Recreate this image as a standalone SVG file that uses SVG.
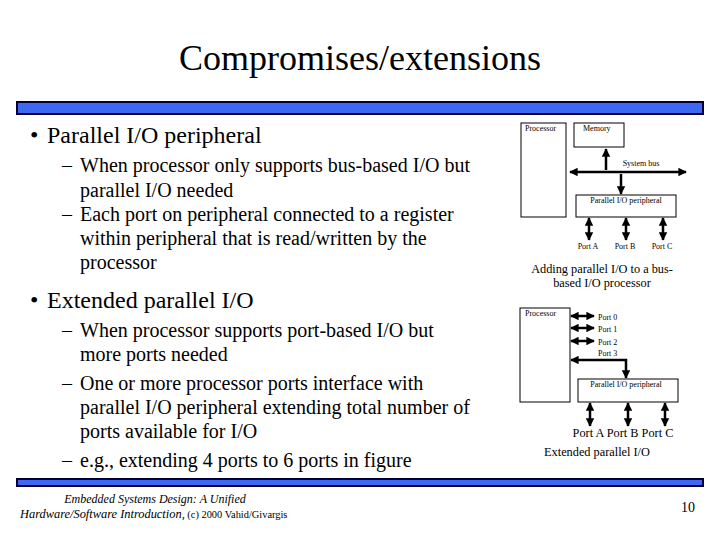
<svg xmlns="http://www.w3.org/2000/svg" width="720" height="540" viewBox="0 0 720 540">
<defs>
<marker id="ah" viewBox="0 0 10 10" refX="9" refY="5" markerWidth="3.4" markerHeight="3.4" orient="auto-start-reverse"><path d="M0,0 L10,5 L0,10 z" fill="#000"/></marker>
<style>
.t{font-family:"Liberation Serif","Times New Roman",serif;fill:#000}
.title{font-size:36px}
.b1{font-size:24px}
.b2{font-size:20px}
.sm{font-size:8px}
.cap{font-size:12.3px}
.box{fill:#fff;stroke:#000;stroke-width:1}
.con{stroke:#000;stroke-width:2.5;fill:none}
.bar{fill:#3d68f5;stroke:#000033;stroke-width:2}
</style>
</defs>
<rect width="720" height="540" fill="#fff"/>
<text class="t title" x="360" y="70" text-anchor="middle">Compromises/extensions</text>
<rect class="bar" x="17" y="102" width="686" height="12"/>
<rect class="bar" x="17" y="479" width="686" height="7"/>

<g id="text-left">
<text class="t b1" y="143"><tspan x="30">•</tspan><tspan x="47">Parallel I/O peripheral</tspan></text>
<text class="t b2" y="172"><tspan x="62">–</tspan><tspan x="80">When processor only supports bus-based I/O but</tspan></text>
<text class="t b2" x="80" y="197">parallel I/O needed</text>
<text class="t b2" y="221"><tspan x="62">–</tspan><tspan x="80">Each port on peripheral connected to a register</tspan></text>
<text class="t b2" x="80" y="245">within peripheral that is read/written by the</text>
<text class="t b2" x="80" y="269">processor</text>
<text class="t b1" y="308"><tspan x="30">•</tspan><tspan x="47">Extended parallel I/O</tspan></text>
<text class="t b2" y="337"><tspan x="62">–</tspan><tspan x="80">When processor supports port-based I/O but</tspan></text>
<text class="t b2" x="80" y="361">more ports needed</text>
<text class="t b2" y="390"><tspan x="62">–</tspan><tspan x="80">One or more processor ports interface with</tspan></text>
<text class="t b2" x="80" y="414">parallel I/O peripheral extending total number of</text>
<text class="t b2" x="80" y="438">ports available for I/O</text>
<text class="t b2" y="467"><tspan x="62">–</tspan><tspan x="80">e.g., extending 4 ports to 6 ports in figure</tspan></text>
</g>

<g id="footer">
<text class="t" x="155" y="503" text-anchor="middle" font-size="12" font-style="italic">Embedded Systems Design: A Unified</text>
<text class="t" x="20" y="518" font-size="12.4"><tspan font-style="italic">Hardware/Software Introduction,</tspan><tspan font-size="10.4"> (c) 2000 Vahid/Givargis</tspan></text>
<text class="t" x="695" y="512" text-anchor="end" font-size="14">10</text>
</g>

<g id="d1-processor"><rect class="box" x="521" y="123" width="45" height="94"/><text class="t sm" x="525" y="131">Processor</text></g>
<g id="d1-memory"><rect class="box" x="574" y="123" width="50" height="24"/><text class="t sm" x="583" y="131">Memory</text></g>
<g id="d1-periph"><rect class="box" x="576" y="195" width="100" height="22"/><text class="t sm" x="626" y="203" text-anchor="middle">Parallel I/O peripheral</text></g>
<g id="d1-labels">
<text class="t sm" x="641" y="166" text-anchor="middle">System bus</text>
<text class="t sm" x="588" y="249" text-anchor="middle">Port A</text>
<text class="t sm" x="625" y="249" text-anchor="middle">Port B</text>
<text class="t sm" x="662" y="249" text-anchor="middle">Port C</text>
<text class="t cap" x="602" y="273" text-anchor="middle">Adding parallel I/O to a bus-</text>
<text class="t cap" x="602" y="287" text-anchor="middle">based I/O processor</text>
</g>

<g id="d2-processor"><rect class="box" x="520" y="308" width="50" height="94"/><text class="t sm" x="525" y="316">Processor</text></g>
<g id="d2-periph"><rect class="box" x="578" y="379" width="100" height="23"/><text class="t sm" x="626" y="387" text-anchor="middle">Parallel I/O peripheral</text></g>
<g id="d2-labels">
<text class="t sm" x="598" y="320">Port 0</text>
<text class="t sm" x="598" y="332">Port 1</text>
<text class="t sm" x="598" y="345">Port 2</text>
<text class="t sm" x="598" y="356">Port 3</text>
<text class="t cap" x="623" y="437" text-anchor="middle">Port A  Port B  Port C</text>
<text class="t cap" x="597" y="456" text-anchor="middle">Extended parallel I/O</text>
</g>

<g id="connectors">
<line class="con" x1="570" y1="172" x2="686" y2="172" marker-start="url(#ah)" marker-end="url(#ah)"/>
<line class="con" x1="606" y1="149" x2="606" y2="170" marker-start="url(#ah)"/>
<line class="con" x1="621" y1="174" x2="621" y2="194" marker-end="url(#ah)"/>
<line class="con" x1="589" y1="218" x2="589" y2="240" marker-start="url(#ah)" marker-end="url(#ah)"/>
<line class="con" x1="626" y1="218" x2="626" y2="240" marker-start="url(#ah)" marker-end="url(#ah)"/>
<line class="con" x1="663" y1="218" x2="663" y2="240" marker-start="url(#ah)" marker-end="url(#ah)"/>
<line class="con" x1="571" y1="316" x2="594" y2="316" marker-start="url(#ah)" marker-end="url(#ah)"/>
<line class="con" x1="571" y1="328" x2="594" y2="328" marker-start="url(#ah)" marker-end="url(#ah)"/>
<line class="con" x1="571" y1="341" x2="594" y2="341" marker-start="url(#ah)" marker-end="url(#ah)"/>
<polyline class="con" points="571,360 626,360 626,378" marker-start="url(#ah)" marker-end="url(#ah)"/>
<line class="con" x1="590" y1="403" x2="590" y2="426" marker-start="url(#ah)" marker-end="url(#ah)"/>
<line class="con" x1="628" y1="403" x2="628" y2="426" marker-start="url(#ah)" marker-end="url(#ah)"/>
<line class="con" x1="665" y1="403" x2="665" y2="426" marker-start="url(#ah)" marker-end="url(#ah)"/>
</g>
</svg>
